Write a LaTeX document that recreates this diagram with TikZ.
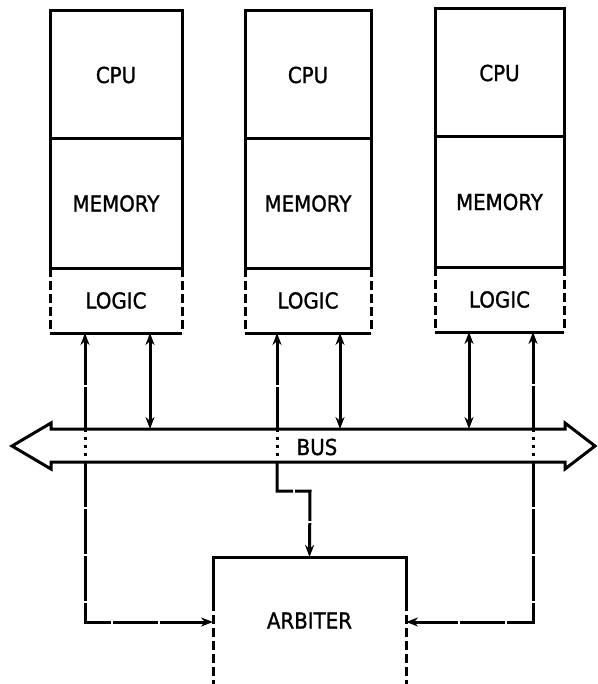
\documentclass[tikz,border=0pt]{standalone}
\usepackage{fontspec}
\setmainfont{DejaVu Sans}[FakeStretch=0.9,FakeBold=1.2]
\usetikzlibrary{arrows.meta}
\begin{document}
\begin{tikzpicture}[x=1pt,y=-1pt,line width=3pt,
  lbl/.style={font=\fontsize{22}{26}\selectfont, inner sep=0pt, outer sep=0pt},
  boxed/.style={lbl, draw, anchor=north west},
  upt/.style={{Stealth[length=12pt,width=9pt]}-},
  endt/.style={-{Stealth[length=12pt,width=9pt]}},
  dblt/.style={{Stealth[length=12pt,width=9pt]}-{Stealth[length=12pt,width=9pt]}},
  arbline/.style={dash pattern=on 45pt off 2pt},
  inbus/.style={dash pattern=on 3pt off 5pt},
  sidedash/.style={dash pattern=on 9pt off 4pt}]
\useasboundingbox (0,0) rectangle (597,684);

% processor modules
\foreach \i/\L/\R/\T/\da/\db/\B in {1/50/182/11/139/268/333, 2/245/371/11/139/268/333, 3/435/564/9/137/267/332}{
  \node[boxed, minimum width={\R-\L}, minimum height={\da-\T}] (cpu\i) at (\L,\T) {CPU};
  \node[boxed, minimum width={\R-\L}, minimum height={\db-\da}] (mem\i) at (\L,\da) {MEMORY};
  \node[lbl, anchor=north west, minimum width={\R-\L}, minimum height={\B-\db}] (log\i) at (\L,\db) {LOGIC};
  \draw (log\i.south west) -- (log\i.south east);
  \draw[sidedash] (log\i.north west) -- (log\i.south west);
  \draw[sidedash] (log\i.north east) -- (log\i.south east);
}

% bus
\draw[line join=miter] (12,446) -- (51,423) -- (51,429) -- (565,429) -- (565,423) -- (595,446)
  -- (565,469) -- (565,462) -- (51,462) -- (51,469) -- cycle;
\node[lbl] (bus) at (317,447) {BUS};

% arbiter
\node[lbl, anchor=north west, minimum width=193, minimum height=127] (arb) at (213,557) {ARBITER};
\coordinate (arbBL) at (213,684);
\coordinate (arbBR) at (406,684);
\coordinate (arbML) at (213,602);
\coordinate (arbMR) at (406,602);
\draw (arbML) -- (arb.north west) -- (arb.north east) -- (arbMR);
\draw[sidedash] (arbML) -- (arbBL);
\draw[sidedash] (arbMR) -- (arbBR);

% coordinates on module bottoms, bus edges
\foreach \n/\x/\y in {a1/85/333, d1/150/333, a2/277/333, d2/340/333, d3/469/332, a3/533/332}{
  \coordinate (\n m) at (\x,\y);
  \coordinate (\n t) at (\x,429);
  \coordinate (\n b) at (\x,462);
}
\coordinate (a1c) at (85,622);
\coordinate (a2c) at (277,491);
\coordinate (a2d) at (310,491);
\coordinate (a3c) at (533,622);

% data lines
\draw[dblt] (d1m) -- (d1t);
\draw[dblt] (d2m) -- (d2t);
\draw[dblt] (d3m) -- (d3t);

% arbitration lines
\draw[upt, arbline] (a1m) -- (a1t);
\draw[inbus] (a1t) -- (a1b);
\draw[endt, arbline] (a1b) -- (a1c) -- (arb.west |- a1c);

\draw[upt, arbline] (a2m) -- (a2t);
\draw[inbus] (a2t) -- (a2b);
\draw[endt, arbline] (a2b) -- (a2c) -- (a2d) -- (arb.north);

\draw[upt, arbline] (a3m) -- (a3t);
\draw[inbus] (a3t) -- (a3b);
\draw[endt, arbline] (a3b) -- (a3c) -- (arb.east |- a3c);
\end{tikzpicture}
\end{document}
